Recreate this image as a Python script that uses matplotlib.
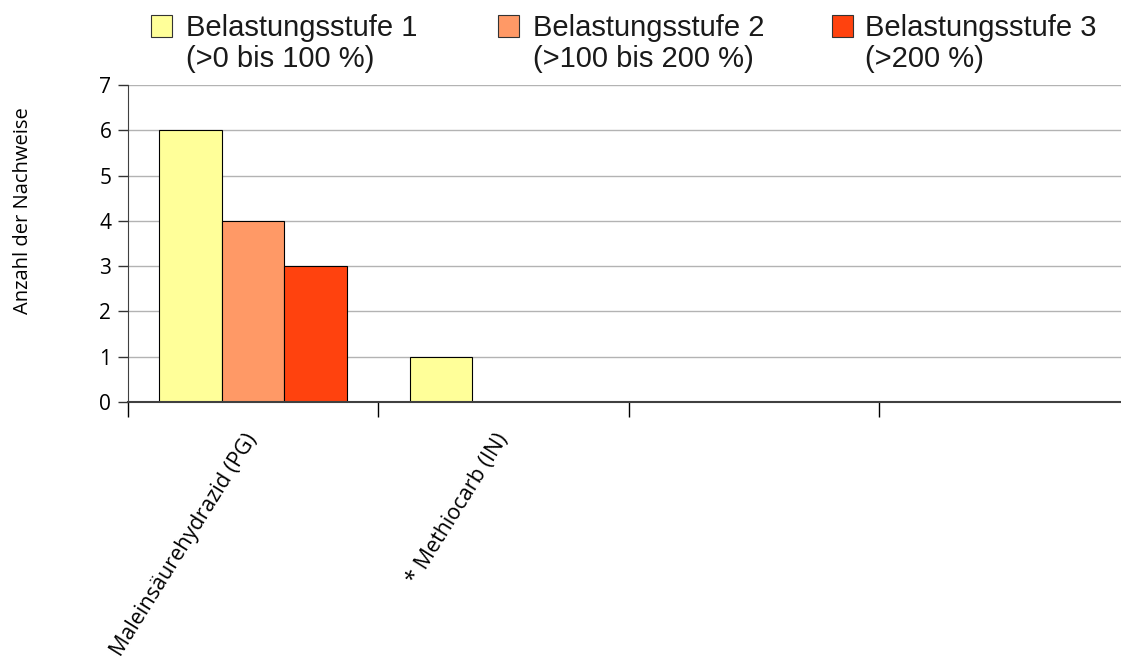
import matplotlib
matplotlib.use("Agg")
import matplotlib.pyplot as plt
import numpy as np
from matplotlib.patches import Rectangle

# data
categories = ["Maleinsäurehydrazid (PG)", "* Methiocarb (IN)", "", ""]
stufe1 = [6, 1, 0, 0]
stufe2 = [4, 0, 0, 0]
stufe3 = [3, 0, 0, 0]
series_names = ["Belastungsstufe 1", "Belastungsstufe 2", "Belastungsstufe 3"]
series_ranges = ["(>0 bis 100 %)", "(>100 bis 200 %)", "(>200 %)"]
colors = ["#FFFF99", "#FF9966", "#FF420E"]

W, H = 1121, 662
fig = plt.figure(figsize=(W / 100, H / 100), dpi=100)
ax = fig.add_axes([128 / W, 1 - 402 / H, 1001 / W, 317 / H])

x = np.arange(len(categories))
bw = 0.25
for i, (vals, c) in enumerate(zip([stufe1, stufe2, stufe3], colors)):
    ax.bar(x + (i - 1) * bw, vals, width=bw, color=c, edgecolor="black",
           linewidth=0.8, zorder=2)

ax.set_xlim(-0.5, len(categories) - 0.5)
ax.set_ylim(0, 7)
ax.set_yticks(range(8))
ax.yaxis.grid(True, color="#b3b3b3", linewidth=1, zorder=0)
ax.set_axisbelow(True)

for lab in ax.get_yticklabels():
    lab.set_fontfamily("Open Sans")
    lab.set_fontsize(15)
ax.tick_params(axis="y", length=7, width=1, color="#333333", pad=5)

# category boundaries as major ticks, names as minor tick labels
ax.set_xticks(np.arange(len(categories)) - 0.5)
ax.set_xticklabels([])
ax.tick_params(axis="x", which="major", length=11, width=1, color="black")
ax.set_xticks(x, categories, minor=True)
ax.tick_params(axis="x", which="minor", length=0, pad=24)
for lab in ax.get_xticklabels(minor=True):
    lab.set_rotation(58)
    lab.set_ha("right")
    lab.set_va("center")
    lab.set_rotation_mode("anchor")
    lab.set_fontfamily("Open Sans")
    lab.set_fontsize(15.5)

for side in ["top", "right"]:
    ax.spines[side].set_visible(False)
ax.spines["left"].set_color("#404040")
ax.spines["bottom"].set_color("#404040")
ax.spines["bottom"].set_linewidth(1.5)
ax.spines["bottom"].set_zorder(3)

fig.text(23 / W, 1 - 211 / H, "Anzahl der Nachweise", rotation=90,
         ha="center", va="center", fontfamily="Open Sans", fontsize=14.5)

# legend drawn by hand, square aligned with first line
sq_x = [151, 498, 832]
txt_x = [186, 533, 865]
for i in range(3):
    fig.patches.append(Rectangle((sq_x[i] / W, 1 - 37 / H), 21 / W, 22 / H,
                                 transform=fig.transFigure, facecolor=colors[i],
                                 edgecolor="#333333", linewidth=0.8))
    fig.text(txt_x[i] / W, 1 - 36 / H, series_names[i], ha="left",
             va="baseline", fontfamily="Liberation Sans", fontsize=21,
             color="#1a1a1a")
    fig.text(txt_x[i] / W, 1 - 67 / H, series_ranges[i], ha="left",
             va="baseline", fontfamily="Liberation Sans", fontsize=21,
             color="#1a1a1a")

plt.savefig("out.png", dpi=100)
